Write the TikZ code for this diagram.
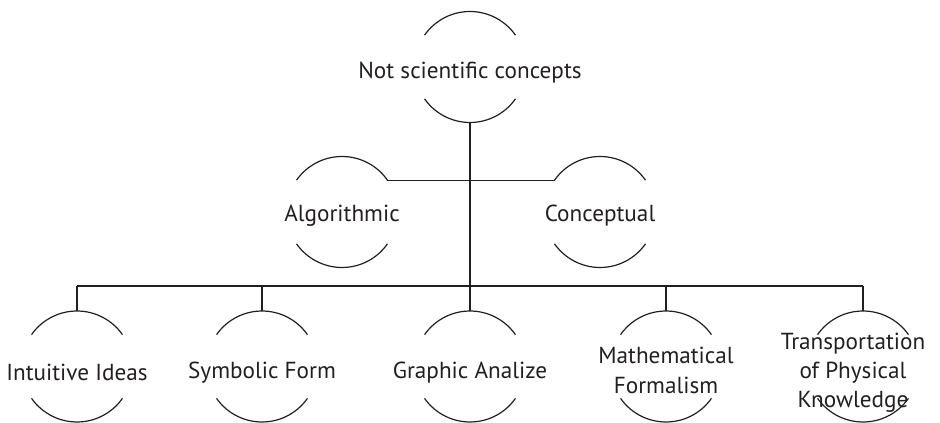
\documentclass[tikz,border=0pt]{standalone}
\usepackage{fontspec}
\setmainfont{PT Sans}
\usepackage{tikz}
\usetikzlibrary{positioning,calc}

\definecolor{InkGray}{RGB}{35,31,32}

\tikzset{
  ring/.style={circle, minimum size=55.5pt, inner sep=0pt, outer sep=0pt},
  ringtext/.style={font=\fontsize{11.6}{14.6}\selectfont, align=center, text=InkGray},
  link/.style={InkGray, line width=0.6pt},
}

\begin{document}
\begin{tikzpicture}[x=0.5pt,y=0.5pt]
  \useasboundingbox (0,0) rectangle (940,422);
  % rings
  \node[ring] (root) at (470,355) {};
  \node[ring] (algo) at (342,210) {};
  \node[ring] (conc) at (600,210) {};
  \node[ring] (intu) at (77,55.5) {};
  \node[ring] (symb) at (262,55.5) {};
  \node[ring] (grap) at (470,55.5) {};
  \node[ring] (math) at (666,55.5) {};
  \node[ring] (tran) at (863,55.5) {};
  % texts
  \node[ringtext] at ([yshift=-3]root) {Not scientific concepts};
  \node[ringtext] at ([yshift=-2]algo) {Algorithmic};
  \node[ringtext] at ([yshift=-2]conc) {Conceptual};
  \node[ringtext] at ([yshift=-3]intu) {Intuitive Ideas};
  \node[ringtext] at ([yshift=-3]symb) {Symbolic Form};
  \node[ringtext] at ([yshift=-3]grap) {Graphic Analize};
  \node[ringtext] at ([yshift=-2]math) {Mathematical\\Formalism};
  \node[ringtext] at ([xshift=-5,yshift=-3]tran) {Transportation\\of Physical\\Knowledge};
  \foreach \n in {root,algo,conc,intu,symb,grap,math,tran} {
    \draw[link] (\n.35) arc (35:145:27.75pt) (\n.215) arc (215:325:27.75pt);
  }
  % connectors
  \coordinate (bus) at (470,136);
  \draw[link] (root.south) -- (bus);
  \draw[link] (algo.35) -- (conc.145);
  \draw[link] (intu.north |- bus) -- (tran.north |- bus);
  \foreach \n in {intu,symb,grap,math,tran} {
    \draw[link] (\n.north |- bus) -- (\n.north);
  }
\end{tikzpicture}
\end{document}
